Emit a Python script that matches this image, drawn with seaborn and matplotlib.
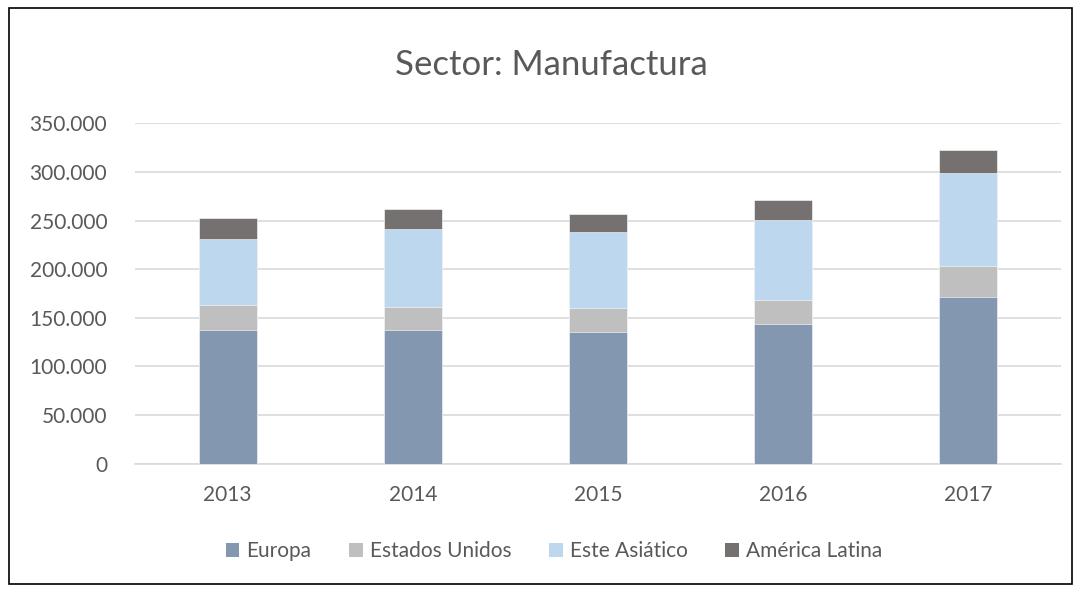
import matplotlib
matplotlib.use("Agg")
import matplotlib.pyplot as plt
from matplotlib.patches import Patch, Rectangle
from matplotlib.ticker import FuncFormatter
import seaborn as sns
import pandas as pd

# Data
years = ["2013", "2014", "2015", "2016", "2017"]
europa = [137600, 137600, 135600, 143200, 171000]
estados_unidos = [25800, 23400, 24100, 25400, 32400]
este_asiatico = [67900, 80300, 78100, 82300, 96000]
america_latina = [21700, 20900, 18600, 20600, 23400]

series = ["Europa", "Estados Unidos", "Este Asiático", "América Latina"]
colors = ["#8497B0", "#BFBFBF", "#BDD7EE", "#767171"]

df = pd.DataFrame({
    "year": years,
    "Europa": europa,
    "Estados Unidos": estados_unidos,
    "Este Asiático": este_asiatico,
    "América Latina": america_latina,
})

sns.set_theme(style="white")
plt.rcParams["font.family"] = ["Lato", "DejaVu Sans"]
text_color = "#595959"

fig = plt.figure(figsize=(10.82, 5.92), dpi=100)
ax = fig.add_axes([0.1248, 0.2167, 0.8558, 0.575])

# stacked bars: draw cumulative totals from the top layer down
cum = df[series].cumsum(axis=1)
for name, col in reversed(list(zip(series, colors))):
    sns.barplot(x=df["year"], y=cum[name], color=col, width=0.313,
                saturation=1, edgecolor="white", linewidth=0.4, ax=ax, zorder=3)

ax.set_ylim(0, 350000)
ax.set_yticks(range(0, 350001, 50000))
ax.yaxis.set_major_formatter(FuncFormatter(lambda v, p: f"{int(v):,}".replace(",", ".")))
ax.grid(axis="y", color="#D9D9D9", linewidth=1.2, zorder=0)
ax.set_axisbelow(True)
for s in ["top", "right", "left"]:
    ax.spines[s].set_visible(False)
ax.spines["bottom"].set_color("#D9D9D9")
ax.spines["bottom"].set_linewidth(1.2)
ax.set_xlabel("")
ax.set_ylabel("")
ax.tick_params(axis="y", colors=text_color, labelsize=15, length=0, pad=20)
ax.tick_params(axis="x", colors=text_color, labelsize=15, length=0, pad=15)

fig.text(0.51, 0.89, "Sector: Manufactura", ha="center", va="center",
         fontsize=25, color=text_color)

handles = [Patch(facecolor=c, edgecolor="none", label=n) for n, c in zip(series, colors)]
leg = fig.legend(handles=handles, loc="center", bbox_to_anchor=(0.512, 0.069), ncol=4,
                 frameon=False, fontsize=15, handlelength=0.65, handleheight=0.65,
                 handletextpad=0.35, columnspacing=1.8)
for t in leg.get_texts():
    t.set_color(text_color)

# outer chart border
fig.patches.append(Rectangle((0.008, 0.013), 0.983, 0.973, transform=fig.transFigure,
                             fill=False, edgecolor="black", linewidth=1.2))

fig.savefig("out.png", dpi=100)
